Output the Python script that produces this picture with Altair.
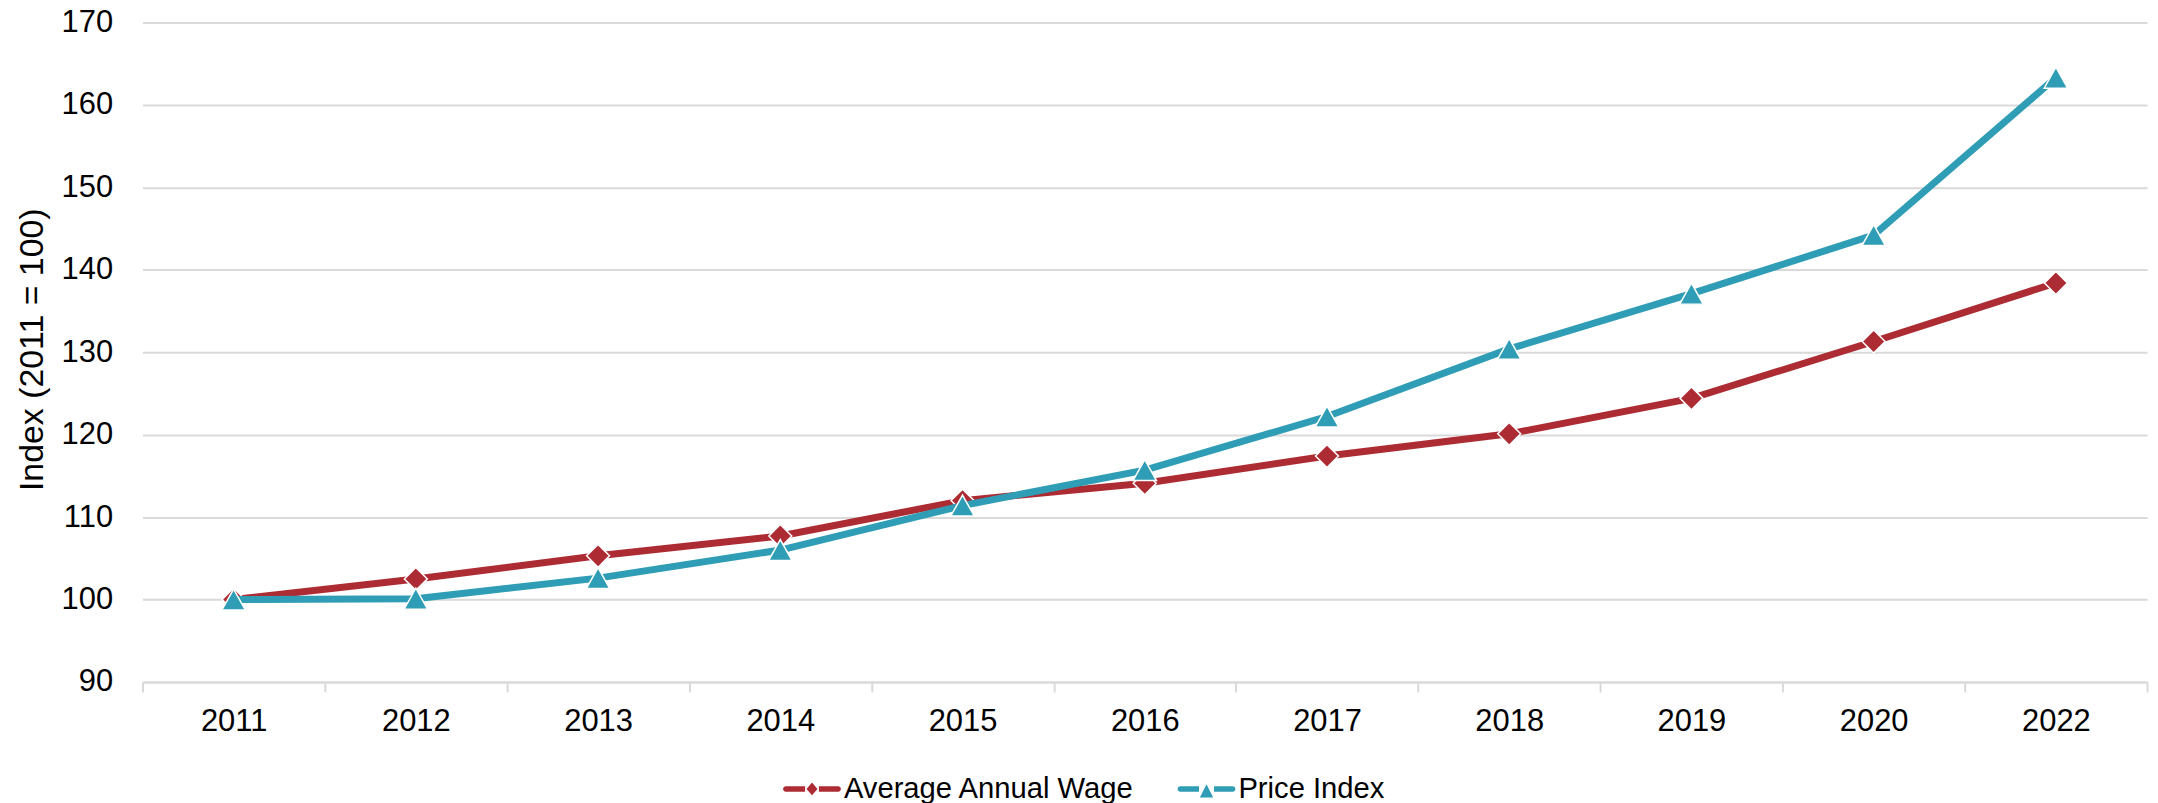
import altair as alt
import pandas as pd

years = ["2011", "2012", "2013", "2014", "2015", "2016", "2017", "2018", "2019", "2020", "2022"]
wage = [100.0, 102.5, 105.3, 107.7, 112.0, 114.1, 117.4, 120.1, 124.4, 131.3, 138.4]
price = [100.0, 100.1, 102.6, 106.0, 111.4, 115.7, 122.2, 130.4, 137.1, 144.2, 163.3]
series_names = ["Average Annual Wage", "Price Index"]
series_colors = ["#AD2B33", "#2E9DB5"]
y_ticks = [90, 100, 110, 120, 130, 140, 150, 160, 170]

FONT = "Liberation Sans, Arial, sans-serif"
GRID = "#D9D9D9"

rows = []
for yr, v in zip(years, wage):
    rows.append({"Year": yr, "Value": v, "Series": series_names[0]})
for yr, v in zip(years, price):
    rows.append({"Year": yr, "Value": v, "Series": series_names[1]})
df = pd.DataFrame(rows)

x_enc = alt.X(
    "Year:N",
    sort=years,
    scale=alt.Scale(type="band", paddingInner=0, paddingOuter=0),
    axis=alt.Axis(
        title=None,
        labelAngle=0,
        labelFont=FONT,
        labelFontSize=31,
        labelColor="#000000",
        labelPadding=15,
        tickBand="extent",
        tickSize=10,
        tickWidth=2,
        tickColor=GRID,
        domainColor=GRID,
        domainWidth=2,
        grid=False,
    ),
)
y_enc = alt.Y(
    "Value:Q",
    scale=alt.Scale(domain=[90, 170], nice=False, zero=False),
    axis=alt.Axis(
        title="Index (2011 = 100)",
        values=y_ticks,
        labelFont=FONT,
        labelFontSize=31,
        labelColor="#000000",
        labelPadding=30,
        ticks=False,
        tickSize=0,
        domain=False,
        grid=True,
        gridColor=GRID,
        gridWidth=2,
        titleFont=FONT,
        titleFontSize=34,
        titleFontWeight="normal",
        titleColor="#000000",
        titleX=-100,
        titleY=328,
        titleAngle=270,
        titleAlign="center",
        titleBaseline="alphabetic",
    ),
)

base = alt.Chart(df)

wage_line = base.transform_filter(alt.datum.Series == series_names[0]).mark_line(
    strokeWidth=7, color=series_colors[0]
).encode(x=x_enc, y=y_enc)
wage_pts = base.transform_filter(alt.datum.Series == series_names[0]).mark_point(
    shape="diamond", filled=True, size=530, fill=series_colors[0], stroke="white",
    strokeWidth=1.5, opacity=1
).encode(x=x_enc, y=y_enc)

tri_path = "M0,-1L1.12,1L-1.12,1Z"
price_line = base.transform_filter(alt.datum.Series == series_names[1]).mark_line(
    strokeWidth=7, color=series_colors[1]
).encode(x=x_enc, y=y_enc)
price_pts = base.transform_filter(alt.datum.Series == series_names[1]).mark_point(
    shape=tri_path, filled=True, size=441, fill=series_colors[1], stroke="white",
    strokeWidth=1.5, opacity=1
).encode(x=x_enc, y=y_enc)

# legend symbols: line segment with marker
leg_wage = (
    "M-0.905,-0.095L-0.24,-0.095L-0.24,0.095L-0.905,0.095A0.095,0.095 0 0 1 -0.905,-0.095Z"
    "M0.24,-0.095L0.905,-0.095A0.095,0.095 0 0 1 0.905,0.095L0.24,0.095Z"
    "M0,-0.22L0.19,0L0,0.22L-0.19,0Z"
)
leg_price = (
    "M-0.905,-0.095L-0.26,-0.095L-0.26,0.095L-0.905,0.095A0.095,0.095 0 0 1 -0.905,-0.095Z"
    "M0.26,-0.095L0.905,-0.095A0.095,0.095 0 0 1 0.905,0.095L0.26,0.095Z"
    "M0,-0.16L0.23,0.3L-0.23,0.3Z"
)

legend = alt.Legend(
    title=None,
    orient="none",
    direction="horizontal",
    legendX=643,
    legendY=740,
    padding=0,
    symbolSize=58 * 58,
    symbolStrokeWidth=0,
    labelFont=FONT,
    labelFontSize=29.3,
    labelColor="#000000",
    labelOffset=3,
    columnPadding=43,
    labelLimit=500,
)

legend_layer = base.transform_filter("false").mark_point(filled=True, opacity=1).encode(
    x=x_enc,
    y=y_enc,
    fill=alt.Fill("Series:N", scale=alt.Scale(domain=series_names, range=series_colors), legend=legend),
    shape=alt.Shape("Series:N", scale=alt.Scale(domain=series_names, range=[leg_wage, leg_price]), legend=legend),
)

chart = alt.layer(wage_line, wage_pts, price_line, price_pts, legend_layer).properties(
    width=2012,
    height=662,
    padding={"left": 135, "top": 13, "right": 3, "bottom": 120},
    autosize=alt.AutoSizeParams(type="none"),
    background="white",
).configure_view(stroke=None)

chart.save("out.html", embed_options={"renderer": "svg", "actions": False})
